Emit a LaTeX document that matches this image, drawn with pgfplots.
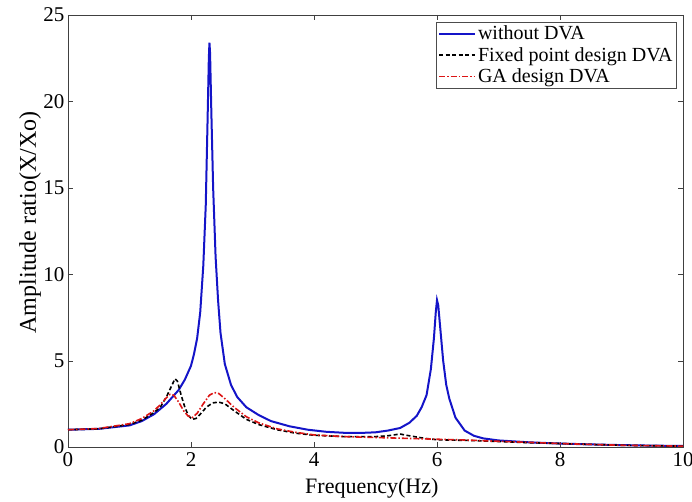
\documentclass[border=0pt]{standalone}
\usepackage{pgfplots}
\pgfplotsset{compat=1.18}
\usepackage{fontspec}
\setmainfont{Liberation Serif}

\definecolor{mblue}{RGB}{20,20,200}
\definecolor{mred}{RGB}{220,20,20}

\begin{document}
\begin{tikzpicture}
\path[use as bounding box] (-68pt,-54pt) rectangle (624pt,447pt);
\begin{axis}[
    scale only axis,
    width=615pt,
    height=432pt,
    xmin=0, xmax=10,
    ymin=0, ymax=25,
    xtick={0,2,...,10},
    ytick={0,5,...,25},
    tick align=inside,
    major tick length=5pt,
    axis line style={draw=black!75},
    tick style={draw=black!75},
    /pgf/number format/assume math mode=true,
    ticklabel style={font=\fontsize{21}{24}\selectfont},
    xticklabel style={yshift=-2pt},
    xlabel={Frequency(Hz)},
    ylabel={Amplitude ratio(X/Xo)},
    xlabel style={at={(axis description cs:0.494,0)}, anchor=north,
        yshift=-28pt, font=\fontsize{22}{26}\selectfont},
    ylabel style={at={(axis description cs:-0.0618,0.52)},
        anchor=center, font=\fontsize{24}{28}\selectfont},
    legend style={at={(rel axis cs:0.990,0.984)}, anchor=north east,
        draw=black!70, font=\fontsize{20}{23}\selectfont,
        inner xsep=2pt, inner ysep=2pt, row sep=2pt},
    legend cell align=left,
    legend image code/.code={\draw[#1] (0pt,0pt) -- (36pt,0pt);},
]
\addlegendimage{mblue, line width=2pt}
\addlegendentry{without DVA}
\addlegendimage{black, line width=1.6pt, dash pattern=on 4pt off 2.5pt}
\addlegendentry{Fixed point design DVA}
\addlegendimage{mred, line width=1.6pt, dash pattern=on 6pt off 2pt on 1.5pt off 2pt}
\addlegendentry{GA design DVA}
% without DVA
\addplot[mblue, line width=2pt, forget plot] coordinates {
(0,1.00) (0.5,1.05) (1.0,1.25) (1.2,1.5) (1.4,1.9) (1.5,2.2) (1.6,2.5)
(1.7,2.9) (1.8,3.3) (1.9,3.9) (2.0,4.7) (2.05,5.4) (2.1,6.3) (2.15,7.8)
(2.2,10.5) (2.24,14) (2.27,19) (2.29,22.5) (2.30,23.4) (2.31,22.8)
(2.33,19.5) (2.36,15) (2.40,11) (2.44,8.5) (2.48,6.6) (2.55,4.8)
(2.65,3.6) (2.75,2.9) (2.9,2.3) (3.1,1.85) (3.3,1.5) (3.6,1.2) (3.9,1.0)
(4.2,0.88) (4.5,0.82) (4.8,0.82) (5.0,0.85) (5.2,0.95) (5.4,1.1)
(5.55,1.4) (5.67,1.8) (5.75,2.3) (5.83,3.0) (5.9,4.5) (5.95,6.3)
(5.98,7.8) (6.0,8.5) (6.02,8.2) (6.05,7.0) (6.1,5.0) (6.15,3.6) (6.2,2.8)
(6.3,1.7) (6.45,0.95) (6.6,0.65) (6.75,0.5) (7.0,0.38) (7.5,0.27)
(8.0,0.2) (8.5,0.15) (9.0,0.11) (9.5,0.08) (10,0.06)
};
% fixed point design
\addplot[black, line width=1.6pt, dash pattern=on 4pt off 2.5pt, forget plot] coordinates {
(0,1.0) (0.5,1.05) (1.0,1.3) (1.2,1.55) (1.4,2.0) (1.5,2.3) (1.6,2.9)
(1.68,3.5) (1.74,3.95) (1.78,3.8) (1.84,3.0) (1.9,2.3) (1.96,1.8)
(2.02,1.6) (2.08,1.65) (2.15,1.9) (2.25,2.3) (2.35,2.55) (2.45,2.6)
(2.55,2.5) (2.7,2.1) (2.9,1.6) (3.1,1.3) (3.4,1.0) (3.7,0.8) (4.0,0.68)
(4.5,0.6) (5.0,0.6) (5.2,0.65) (5.4,0.75) (5.55,0.65) (5.8,0.5)
(6.0,0.42) (6.5,0.38) (7.0,0.32) (7.5,0.25) (8.0,0.2) (9.0,0.1) (10,0.05)
};
% GA design
\addplot[mred, line width=1.6pt, dash pattern=on 6pt off 2pt on 1.5pt off 2pt, forget plot] coordinates {
(0,1.0) (0.5,1.07) (1.0,1.35) (1.2,1.65) (1.4,2.1) (1.5,2.45) (1.6,2.85)
(1.66,3.05) (1.72,3.0) (1.8,2.6) (1.88,2.1) (1.95,1.8) (2.02,1.7)
(2.1,1.95) (2.2,2.5) (2.3,3.0) (2.38,3.15) (2.45,3.1) (2.55,2.8)
(2.7,2.3) (2.9,1.75) (3.1,1.4) (3.4,1.05) (3.7,0.85) (4.0,0.7) (4.5,0.6)
(5.0,0.55) (5.5,0.5) (6.0,0.45) (6.5,0.4) (7.0,0.33) (7.5,0.27)
(8.0,0.2) (9.0,0.1) (10,0.05)
};
\end{axis}
\end{tikzpicture}
\end{document}
